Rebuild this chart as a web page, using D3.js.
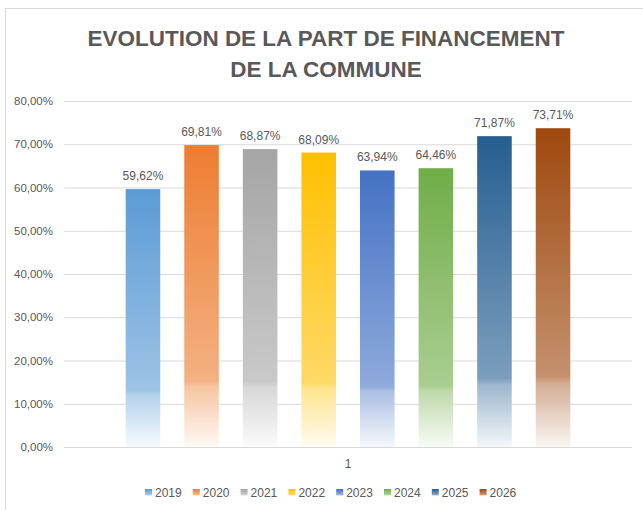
<!DOCTYPE html>
<html>
<head>
<meta charset="utf-8">
<script src="https://cdn.jsdelivr.net/npm/d3@7"></script>
<style>
  body { margin: 0; background: #fff; }
  text { font-family: "Liberation Sans", Arial, sans-serif; }
</style>
</head>
<body>
<div id="chart"></div>
<script>
// data
const categories = ["1"];
const years = ["2019", "2020", "2021", "2022", "2023", "2024", "2025", "2026"];
const values = [59.62, 69.81, 68.87, 68.09, 63.94, 64.46, 71.87, 73.71];
const colors = ["#5B9BD5", "#ED7D31", "#A5A5A5", "#FFC000", "#4472C4", "#70AD47", "#255E91", "#9E480E"];
const yTicks = [0, 10, 20, 30, 40, 50, 60, 70, 80];
const titleLines = ["EVOLUTION DE LA PART DE FINANCEMENT", "DE LA COMMUNE"];

const W = 643, H = 510;
const plot = { left: 64, right: 632, top: 101, bottom: 447 };

const svg = d3.select("#chart").append("svg")
    .attr("width", W)
    .attr("height", H);

// chart border
svg.append("rect")
    .attr("x", 5.5).attr("y", 8.5)
    .attr("width", 700).attr("height", 600)
    .attr("fill", "#fff")
    .attr("stroke", "#D9D9D9");

// gradients, one per series
const defs = svg.append("defs");
years.forEach((yr, i) => {
    const mix = d3.interpolateRgb(colors[i], "#ffffff");
    const g = defs.append("linearGradient")
        .attr("id", "grad" + i)
        .attr("x1", 0).attr("y1", 0).attr("x2", 0).attr("y2", 1);
    [[0, 0], [0.78, 0.4], [0.8, 0.55], [1, 0.95]].forEach(([o, t]) => {
        g.append("stop").attr("offset", o).attr("stop-color", mix(t));
    });
});

const x0 = d3.scaleBand()
    .domain(categories)
    .range([plot.left, plot.right])
    .paddingOuter(0.106)
    .paddingInner(0);

const x1 = d3.scaleBand()
    .domain(years)
    .range([0, x0.bandwidth()])
    .paddingInner(0.41)
    .paddingOuter(0.205);

const y = d3.scaleLinear()
    .domain([0, 80])
    .range([plot.bottom, plot.top]);

// grid + y labels
const yAxis = svg.append("g")
    .attr("transform", `translate(${plot.left},0)`)
    .call(d3.axisLeft(y)
        .tickValues(yTicks)
        .tickSize(-(plot.right - plot.left))
        .tickPadding(11)
        .tickFormat(d => d3.format(".2f")(d).replace(".", ",") + "%"));
yAxis.select(".domain").remove();
yAxis.selectAll("line")
    .attr("stroke", "#D9D9D9")
    .attr("stroke-width", 1);
yAxis.selectAll("text")
    .attr("fill", "#595959")
    .style("font-size", "11.5px");

// bars
const group = svg.append("g")
    .attr("transform", `translate(${x0(categories[0])},0)`);

group.selectAll("rect")
    .data(values)
    .enter().append("rect")
    .attr("x", (d, i) => x1(years[i]))
    .attr("y", d => y(d))
    .attr("width", x1.bandwidth())
    .attr("height", d => y(0) - y(d))
    .attr("fill", (d, i) => `url(#grad${i})`);

// data labels
group.selectAll(".lbl")
    .data(values)
    .enter().append("text")
    .attr("class", "lbl")
    .attr("x", (d, i) => x1(years[i]) + x1.bandwidth() / 2)
    .attr("y", d => y(d) - 9)
    .attr("text-anchor", "middle")
    .attr("fill", "#595959")
    .style("font-size", "12px")
    .text(d => d3.format(".2f")(d).replace(".", ",") + "%");

// category axis
const xAxis = svg.append("g")
    .attr("transform", `translate(0,${plot.bottom})`)
    .call(d3.axisBottom(x0).tickSize(0).tickPadding(12));
xAxis.select(".domain").remove();
xAxis.selectAll("text")
    .attr("fill", "#595959")
    .style("font-size", "12px");

// title
const title = svg.append("text")
    .attr("text-anchor", "middle")
    .attr("fill", "#595959")
    .style("font-weight", "bold")
    .style("font-size", "22px");
titleLines.forEach((t, i) => {
    title.append("tspan")
        .attr("x", 326)
        .attr("y", 46 + i * 31)
        .text(t);
});
// fit first line width to the reference
const firstLen = title.select("tspan").node().getComputedTextLength();
title.style("font-size", (22 * 477 / firstLen) + "px");

// legend
const legend = svg.append("g")
    .attr("transform", "translate(145,493)");
const item = legend.selectAll("g")
    .data(years)
    .enter().append("g")
    .attr("transform", (d, i) => `translate(${i * 47.8},0)`);
item.append("rect")
    .attr("x", 0).attr("y", -4)
    .attr("width", 7).attr("height", 7)
    .attr("fill", (d, i) => `url(#grad${i})`);
item.append("text")
    .attr("x", 10)
    .attr("y", 4)
    .attr("fill", "#595959")
    .style("font-size", "12px")
    .text(d => d);
</script>
</body>
</html>
